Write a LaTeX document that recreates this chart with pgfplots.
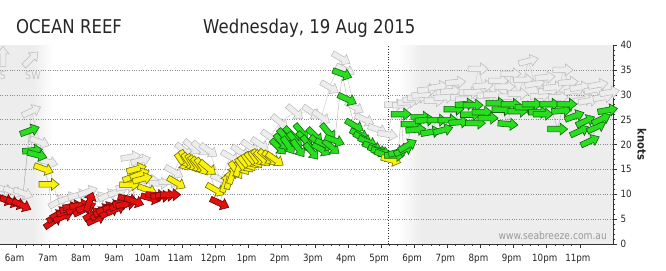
\documentclass[border=0pt]{standalone}
\usepackage{pgfplots}
\pgfplotsset{compat=1.18}
\usepackage{pgfplotstable}
\usepackage{fontspec}
\setmainfont{DejaVu Sans}[FakeStretch=0.87]

\definecolor{windc0}{RGB}{226,16,14}
\definecolor{windc1}{RGB}{250,242,12}
\definecolor{windc2}{RGB}{40,222,30}

\pgfdeclareplotmark{windarrow}{%
  \pgfpathmoveto{\pgfpoint{-10bp}{2.8bp}}%
  \pgfpathlineto{\pgfpoint{2.5bp}{2.8bp}}%
  \pgfpathlineto{\pgfpoint{2.5bp}{6bp}}%
  \pgfpathlineto{\pgfpoint{10bp}{0bp}}%
  \pgfpathlineto{\pgfpoint{2.5bp}{-6bp}}%
  \pgfpathlineto{\pgfpoint{2.5bp}{-2.8bp}}%
  \pgfpathlineto{\pgfpoint{-10bp}{-2.8bp}}%
  \pgfpathclose
  \pgfusepathqfillstroke
}

\pgfplotsset{
  wind arrows/.style={
    scatter, only marks, mark=windarrow,
    visualization depends on={\thisrow{dir}\as\dir},
    visualization depends on={\thisrow{c}\as\cls},
    scatter/@pre marker code/.code={%
      \pgfmathtruncatemacro\ci{\cls}%
      \scope[rotate=\dir, fill=windc\ci, draw=windc\ci!45!black, line width=0.6bp]},
    scatter/@post marker code/.code={\endscope},
  },
  gust arrows/.style={
    scatter, only marks, mark=windarrow,
    visualization depends on={\thisrow{dir}\as\dir},
    scatter/@pre marker code/.code={%
      \scope[rotate=\dir, fill=black!7, draw=black!28, line width=0.5bp]},
    scatter/@post marker code/.code={\endscope},
  },
}

\pgfplotstableread{
h s dir c
5.62 9.0 -20 0
5.80 8.6 -20 0
5.98 8.2 -20 0
6.16 7.8 -25 0
6.40 22.8 20 2
6.48 18.8 5 2
6.62 17.9 -15 2
6.82 15.1 -20 1
6.98 12.0 0 1
7.10 4.5 35 0
7.20 5.6 30 0
7.30 6.2 30 0
7.40 5.5 25 0
7.50 6.6 20 0
7.60 7.2 15 0
7.70 7.6 10 0
7.80 7.0 20 0
7.90 7.8 10 0
8.00 6.8 25 0
8.10 7.4 20 0
8.20 8.5 70 0
8.30 6.0 30 0
8.40 5.0 25 0
8.50 6.2 35 0
8.60 6.8 30 0
8.70 7.2 25 0
8.80 6.5 30 0
8.90 7.6 20 0
9.00 7.0 25 0
9.10 7.8 20 0
9.20 8.4 15 0
9.30 8.0 10 0
9.36 9.0 -15 0
9.41 11.9 0 1
9.50 13.5 20 1
9.55 8.6 -20 0
9.62 15.1 15 1
9.72 14.0 20 1
9.80 13.1 15 1
9.95 10.9 -20 1
10.05 9.2 -15 0
10.20 9.8 -5 0
10.35 9.6 0 0
10.50 9.8 0 0
10.65 9.9 0 0
10.83 12.3 -30 1
11.00 16.5 -55 1
11.10 17.0 -60 1
11.20 16.5 -55 1
11.30 16.2 -60 1
11.40 16.0 -55 1
11.50 15.8 -50 1
11.60 15.5 -55 1
11.77 15.3 -40 1
12.00 10.9 -30 1
12.13 8.2 -25 0
12.31 12.3 70 1
12.42 13.0 75 1
12.52 14.0 70 1
12.62 14.8 -55 1
12.72 15.5 70 1
12.82 15.6 -55 1
12.92 16.0 -50 1
13.02 16.4 -55 1
13.12 16.8 -50 1
13.22 17.0 -55 1
13.32 17.3 -50 1
13.42 17.2 -45 1
13.55 17.5 -40 1
13.68 17.2 -40 1
13.80 17.0 -35 1
13.90 19.5 -45 2
14.00 20.5 -50 2
14.10 21.5 -50 2
14.20 19.8 -55 2
14.30 22.0 -45 2
14.40 20.8 -50 2
14.50 19.2 -55 2
14.60 22.5 -50 2
14.70 21.0 -45 2
14.80 20.0 -55 2
14.90 18.6 -50 2
15.00 21.8 -45 2
15.10 20.3 -40 2
15.20 19.0 -30 2
15.30 20.0 -25 2
15.40 22.5 -50 2
15.50 19.5 -40 2
15.60 20.8 -20 2
15.83 34.2 -20 2
15.98 29.1 -25 2
16.20 23.8 -30 2
16.35 22.0 -25 2
16.45 21.2 -30 2
16.60 20.5 -25 2
16.75 19.5 -20 2
16.90 18.8 -20 2
17.00 18.5 -15 2
17.10 17.9 -20 2
17.30 16.9 -15 1
17.40 17.8 0 2
17.52 18.5 15 2
17.61 26.1 0 2
17.68 18.9 25 2
17.80 19.8 30 2
17.91 24.1 0 2
18.05 23.0 5 2
18.20 25.5 0 2
18.33 24.9 5 2
18.50 22.5 10 2
18.69 24.9 0 2
18.87 22.9 15 2
19.02 24.9 0 2
19.20 27.1 0 2
19.35 24.5 5 2
19.54 28.1 5 2
19.70 26.0 0 2
19.78 27.9 0 2
19.85 24.3 0 2
20.05 26.5 0 2
20.23 25.3 0 2
20.47 28.3 0 2
20.65 27.0 0 2
20.83 24.1 -5 2
20.92 28.1 0 2
21.13 26.7 0 2
21.35 27.5 0 2
21.56 28.1 0 2
21.75 26.5 0 2
21.89 26.1 0 2
22.09 28.1 0 2
22.33 23.1 0 2
22.45 26.8 5 2
22.61 28.1 0 2
22.84 25.7 20 2
22.99 22.7 25 2
23.17 24.7 25 2
23.31 20.7 25 2
23.50 23.5 25 2
23.65 25.1 25 2
23.84 26.9 10 2
}\main

\pgfplotstableread{
h s dir
5.60 11.0 -20
5.90 10.5 -20
6.20 10.2 -20
6.45 26.7 25
6.70 20.5 -20
6.95 16.5 -15
7.25 8.5 30
7.55 9.2 20
7.85 9.8 15
8.15 10.5 20
8.45 9.2 25
8.75 9.8 25
9.05 10.5 20
9.30 11.5 10
9.45 17.5 10
9.75 16.8 15
10.00 12.8 0
10.30 12.2 0
10.60 12.5 0
10.75 14.5 -30
11.05 18.8 -40
11.30 19.5 -40
11.55 19.2 -40
11.80 18.8 -35
12.15 13.0 -25
12.45 17.5 -30
12.75 18.5 -35
13.05 19.5 -35
13.35 20.0 -35
13.65 21.5 -35
13.95 24.5 -40
14.40 26.5 -40
14.90 26.5 -35
15.20 25.5 -35
15.45 31.5 -30
15.80 37.3 -30
15.92 35.0 -25
16.20 27.5 -30
16.50 25.0 -25
16.90 23.0 -20
17.20 22.0 -10
17.40 28.0 0
17.64 27.9 0
17.80 28.5 5
17.96 29.1 5
18.10 29.5 5
18.23 30.0 5
18.40 31.0 5
18.60 28.8 0
18.72 31.6 10
18.90 29.5 5
19.10 30.7 5
19.25 32.5 5
19.40 29.5 0
19.55 29.0 0
19.66 30.4 0
19.80 30.5 0
19.93 35.2 0
20.08 31.8 5
20.20 29.8 0
20.40 30.0 0
20.55 32.8 0
20.74 31.6 0
20.85 29.6 0
20.92 34.2 0
21.14 30.2 0
21.30 33.0 0
21.45 36.8 15
21.64 32.2 10
21.80 29.8 5
21.95 33.5 5
22.05 30.8 5
22.20 31.5 5
22.35 29.5 0
22.49 35.0 0
22.65 32.5 5
22.83 30.8 10
23.00 31.5 10
23.10 29.0 10
23.25 28.8 10
23.43 31.0 10
23.55 32.0 10
23.70 29.5 10
23.90 30.5 10
}\gust

\pgfplotstableread{
h s dir
5.59 37.7 90
6.43 37.2 45
}\legarr

\begin{document}
\begin{tikzpicture}
\begin{axis}[
  at={(0pt,0pt)}, anchor=south west,
  scale only axis, width=613bp, height=199bp,
  xmin=5.5, xmax=24, ymin=0, ymax=40,
  clip=false, set layers,
  axis x line*=bottom, axis y line*=right,
  axis line style={black!80, line width=0.6bp},
  tick align=outside,
  xtick={6,...,23},
  xticklabels={6am,7am,8am,9am,10am,11am,12pm,1pm,2pm,3pm,4pm,5pm,6pm,7pm,8pm,9pm,10pm,11pm},
  minor x tick num=3,
  ytick={0,5,...,40},
  minor y tick num=4,
  major tick length=4bp, minor tick length=2bp,
  tick style={black!80, line width=0.5bp},
  ticklabel style={font=\fontsize{10bp}{12bp}\selectfont, text=black!85},
  xticklabel style={yshift=-3bp, xshift=-2bp},
  yticklabel style={/pgf/number format/assume math mode=true},
  extra y ticks={5,10,...,35},
  extra y tick labels={},
  extra y tick style={grid=major, major tick length=0pt, grid style={dotted, black!45, line width=0.5bp}},
]
\begin{pgfonlayer}{axis background}
\fill[black!7] (axis cs:5.5,0) rectangle (axis cs:6.5,40);
\shade[left color=black!7, right color=white] (axis cs:6.5,0) rectangle (axis cs:7.1,40);
\shade[left color=white, right color=black!7] (axis cs:17.5,0) rectangle (axis cs:18.2,40);
\fill[black!7] (axis cs:18.2,0) rectangle (axis cs:24,40);
\end{pgfonlayer}
\draw[black!80, dotted, line width=0.6bp] (axis cs:17.21,0) -- (axis cs:17.21,40);
\addplot[black!22, line width=0.4bp] table[x=h,y=s]{\gust};
\addplot[gust arrows] table[x=h,y=s]{\gust};
\addplot[black!30, line width=0.4bp] table[x=h,y=s]{\main};
\addplot[wind arrows] table[x=h,y=s]{\main};
\addplot[gust arrows] table[x=h,y=s]{\legarr};
\end{axis}
\node[anchor=base west, inner sep=0, text=black!85, font=\fontsize{19bp}{22bp}\selectfont] at (16bp,210.7bp) {OCEAN REEF};
\node[anchor=base west, inner sep=0, text=black!85, font=\fontsize{19bp}{22bp}\selectfont] at (203bp,210.7bp) {Wednesday, 19 Aug 2015};
\node[rotate=-90, inner sep=0, text=black!85, font=\bfseries\fontsize{11.5bp}{13bp}\selectfont] at (642bp,99.5bp) {knots};
\node[anchor=base east, inner sep=0, text=black!40, font=\fontsize{10.5bp}{12bp}\selectfont] at (607bp,5bp) {www.seabreeze.com.au};
\node[anchor=base, inner sep=0, text=black!22, font=\fontsize{11bp}{13bp}\selectfont] at (3bp,164bp) {S};
\node[anchor=base, inner sep=0, text=black!22, font=\fontsize{11bp}{13bp}\selectfont] at (33bp,164bp) {SW};
\pgfresetboundingbox
\path[use as bounding box] (0bp,-27bp) rectangle (666bp,244bp);
\end{tikzpicture}
\end{document}
